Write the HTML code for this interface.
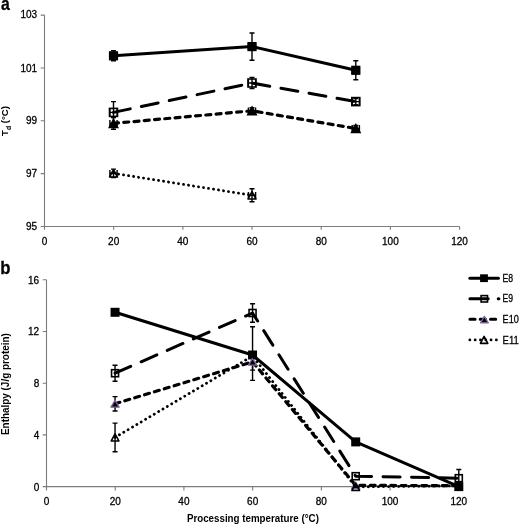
<!DOCTYPE html>
<html><head><meta charset="utf-8"><style>
html,body{margin:0;padding:0;background:#fff;}
body{width:519px;height:524px;overflow:hidden;}
svg{display:block;will-change:transform;font-family:"Liberation Sans",sans-serif;}
text{fill:#000;stroke:#000;stroke-width:0.28px;}
.nb{stroke-width:0px;stroke:none;}
</style></head><body>
<svg width="519" height="524" viewBox="0 0 519 524">
<rect width="519" height="524" fill="#fff"/>
<path d="M44.5,15.1 V226.5 H459.6" fill="none" stroke="#7c7c7c" stroke-width="1.1"/>
<path d="M40.7,15.1 H44.5 M40.7,67.95 H44.5 M40.7,120.8 H44.5 M40.7,173.65 H44.5 M40.7,226.5 H44.5 M44.5,226.5 V229.7 M113.68,226.5 V229.7 M182.87,226.5 V229.7 M252.05,226.5 V229.7 M321.23,226.5 V229.7 M390.42,226.5 V229.7 M459.6,226.5 V229.7 " fill="none" stroke="#7c7c7c" stroke-width="1.1"/>
<path d="M46.5,279.8 V486.6 H458.8" fill="none" stroke="#7c7c7c" stroke-width="1.1"/>
<path d="M42.7,279.8 H46.5 M42.7,331.5 H46.5 M42.7,383.2 H46.5 M42.7,434.9 H46.5 M42.7,486.6 H46.5 M46.5,486.6 V490.4 M115.22,486.6 V490.4 M183.93,486.6 V490.4 M252.65,486.6 V490.4 M321.37,486.6 V490.4 M390.08,486.6 V490.4 M458.8,486.6 V490.4 " fill="none" stroke="#7c7c7c" stroke-width="1.1"/>
<text x="37.2" y="17.8" font-size="10" text-anchor="end" font-weight="normal" >103</text>
<text x="37.2" y="71.55" font-size="10" text-anchor="end" font-weight="normal" >101</text>
<text x="37.2" y="124.4" font-size="10" text-anchor="end" font-weight="normal" >99</text>
<text x="37.2" y="177.25" font-size="10" text-anchor="end" font-weight="normal" >97</text>
<text x="37.2" y="230.1" font-size="10" text-anchor="end" font-weight="normal" >95</text>
<text x="44.5" y="245.2" font-size="10" text-anchor="middle" font-weight="normal" >0</text>
<text x="113.68" y="245.2" font-size="10" text-anchor="middle" font-weight="normal" >20</text>
<text x="182.87" y="245.2" font-size="10" text-anchor="middle" font-weight="normal" >40</text>
<text x="252.05" y="245.2" font-size="10" text-anchor="middle" font-weight="normal" >60</text>
<text x="321.23" y="245.2" font-size="10" text-anchor="middle" font-weight="normal" >80</text>
<text x="390.42" y="245.2" font-size="10" text-anchor="middle" font-weight="normal" >100</text>
<text x="459.6" y="245.2" font-size="10" text-anchor="middle" font-weight="normal" >120</text>
<text x="39.2" y="283.7" font-size="10" text-anchor="end" font-weight="normal" >16</text>
<text x="39.2" y="335.4" font-size="10" text-anchor="end" font-weight="normal" >12</text>
<text x="39.2" y="387.1" font-size="10" text-anchor="end" font-weight="normal" >8</text>
<text x="39.2" y="438.8" font-size="10" text-anchor="end" font-weight="normal" >4</text>
<text x="39.2" y="490.5" font-size="10" text-anchor="end" font-weight="normal" >0</text>
<text x="46.5" y="504.8" font-size="10" text-anchor="middle" font-weight="normal" >0</text>
<text x="115.22" y="504.8" font-size="10" text-anchor="middle" font-weight="normal" >20</text>
<text x="183.93" y="504.8" font-size="10" text-anchor="middle" font-weight="normal" >40</text>
<text x="252.65" y="504.8" font-size="10" text-anchor="middle" font-weight="normal" >60</text>
<text x="321.37" y="504.8" font-size="10" text-anchor="middle" font-weight="normal" >80</text>
<text x="390.08" y="504.8" font-size="10" text-anchor="middle" font-weight="normal" >100</text>
<text x="458.8" y="504.8" font-size="10" text-anchor="middle" font-weight="normal" >120</text>
<text transform="translate(0.9,9.6) scale(0.83,1)" font-size="19" font-weight="bold">a</text>
<text transform="translate(0.3,274.4) scale(0.88,1)" font-size="19" font-weight="bold">b</text>
<text transform="translate(7.9,135.9) rotate(-90)" class="nb" font-size="9.3" font-weight="bold" textLength="29.8" lengthAdjust="spacingAndGlyphs">T<tspan font-size="6.6" dy="3.0">d</tspan><tspan dy="-3.0"> (°C)</tspan></text>
<text transform="translate(8.6,435.0) rotate(-90)" class="nb" font-size="10" font-weight="bold" textLength="101.8" lengthAdjust="spacingAndGlyphs">Enthalpy (J/g protein)</text>
<text x="186.9" y="521.6" class="nb" font-size="10" font-weight="bold" textLength="132" lengthAdjust="spacingAndGlyphs">Processing temperature (°C)</text>
<path d="M113.5,55.8 L252,46.6 L355.8,70.3" fill="none" stroke="#000" stroke-width="3.0" stroke-linejoin="round"/>
<path d="M113.5,50.8 V60.8 M111,50.8 H116 M111,60.8 H116" stroke="#000" stroke-width="1.4" fill="none"/>
<path d="M109.9,55.8 H117.1 M109.9,52.4 V59.2 M117.1,52.4 V59.2" stroke="#000" stroke-width="1.4" fill="none"/>
<rect x="108.9" y="51.2" width="9.2" height="9.2" fill="#000"/>
<path d="M252,33 V60.2 M249.5,33 H254.5 M249.5,60.2 H254.5" stroke="#000" stroke-width="1.4" fill="none"/>
<path d="M248.4,46.6 H255.6 M248.4,43.2 V50 M255.6,43.2 V50" stroke="#000" stroke-width="1.4" fill="none"/>
<rect x="247.4" y="42" width="9.2" height="9.2" fill="#000"/>
<path d="M355.8,60.8 V79.8 M353.3,60.8 H358.3 M353.3,79.8 H358.3" stroke="#000" stroke-width="1.4" fill="none"/>
<path d="M352.2,70.3 H359.4 M352.2,66.9 V73.7 M359.4,66.9 V73.7" stroke="#000" stroke-width="1.4" fill="none"/>
<rect x="351.2" y="65.7" width="9.2" height="9.2" fill="#000"/>
<path d="M113.5,112.4 L252,83 L355.8,101.6" fill="none" stroke="#000" stroke-width="3.0" stroke-linecap="round" stroke-linejoin="round" stroke-dasharray="17.1 11.4"/>
<path d="M113.5,101.6 V123.2 M111,101.6 H116 M111,123.2 H116" stroke="#000" stroke-width="1.4" fill="none"/>
<path d="M109.9,112.4 H117.1 M109.9,109 V115.8 M117.1,109 V115.8" stroke="#000" stroke-width="1.4" fill="none"/>
<rect x="109.5" y="108.4" width="8" height="8" fill="none" stroke="#000" stroke-width="1.6"/>
<path d="M252,77.4 V88.6 M249.5,77.4 H254.5 M249.5,88.6 H254.5" stroke="#000" stroke-width="1.4" fill="none"/>
<path d="M248.4,83 H255.6 M248.4,79.6 V86.4 M255.6,79.6 V86.4" stroke="#000" stroke-width="1.4" fill="none"/>
<rect x="248" y="79" width="8" height="8" fill="none" stroke="#000" stroke-width="1.6"/>
<path d="M355.8,98.6 V104.6 M353.3,98.6 H358.3 M353.3,104.6 H358.3" stroke="#000" stroke-width="1.4" fill="none"/>
<path d="M352.2,101.6 H359.4 M352.2,98.2 V105 M359.4,98.2 V105" stroke="#000" stroke-width="1.4" fill="none"/>
<rect x="351.8" y="97.6" width="8" height="8" fill="none" stroke="#000" stroke-width="1.6"/>
<path d="M113.5,123.4 L252,110.8 L355.8,128.5" fill="none" stroke="#000" stroke-width="3.2" stroke-linecap="round" stroke-linejoin="round" stroke-dasharray="5.0 5.3"/>
<path d="M113.5,117.6 V129.2 M111,117.6 H116 M111,129.2 H116" stroke="#000" stroke-width="1.4" fill="none"/>
<path d="M109.9,123.4 H117.1 M109.9,120 V126.8 M117.1,120 V126.8" stroke="#000" stroke-width="1.4" fill="none"/>
<polygon points="113.5,119.26 118,127.54 109,127.54" fill="#000" stroke="#000" stroke-width="1.2"/>
<path d="M252,107.8 V113.8 M249.5,107.8 H254.5 M249.5,113.8 H254.5" stroke="#000" stroke-width="1.4" fill="none"/>
<path d="M248.4,110.8 H255.6 M248.4,107.4 V114.2 M255.6,107.4 V114.2" stroke="#000" stroke-width="1.4" fill="none"/>
<polygon points="252,106.66 256.5,114.94 247.5,114.94" fill="#000" stroke="#000" stroke-width="1.2"/>
<path d="M355.8,125.5 V131.5 M353.3,125.5 H358.3 M353.3,131.5 H358.3" stroke="#000" stroke-width="1.4" fill="none"/>
<path d="M352.2,128.5 H359.4 M352.2,125.1 V131.9 M359.4,125.1 V131.9" stroke="#000" stroke-width="1.4" fill="none"/>
<polygon points="355.8,124.36 360.3,132.64 351.3,132.64" fill="#000" stroke="#000" stroke-width="1.2"/>
<path d="M113.5,173.3 L252,195.3" fill="none" stroke="#000" stroke-width="2.8" stroke-linecap="round" stroke-linejoin="round" stroke-dasharray="0.1 4.96"/>
<path d="M113.5,169.1 V177.5 M111,169.1 H116 M111,177.5 H116" stroke="#000" stroke-width="1.4" fill="none"/>
<path d="M109.9,173.3 H117.1 M109.9,169.9 V176.7 M117.1,169.9 V176.7" stroke="#000" stroke-width="1.4" fill="none"/>
<polygon points="113.5,169.58 117.5,177.02 109.5,177.02" fill="none" stroke="#000" stroke-width="1.6" stroke-linejoin="round"/>
<path d="M252,188.8 V201.8 M249.5,188.8 H254.5 M249.5,201.8 H254.5" stroke="#000" stroke-width="1.4" fill="none"/>
<path d="M248.4,195.3 H255.6 M248.4,191.9 V198.7 M255.6,191.9 V198.7" stroke="#000" stroke-width="1.4" fill="none"/>
<polygon points="252,191.58 256,199.02 248,199.02" fill="none" stroke="#000" stroke-width="1.6" stroke-linejoin="round"/>
<path d="M115.05,312.3 L252.55,355 L355.7,441.9 L458.8,486.6" fill="none" stroke="#000" stroke-width="3.0" stroke-linejoin="round"/>

<rect x="110.55" y="307.8" width="9" height="9" fill="#000"/>
<path d="M252.55,326.8 V380.4 M250.05,326.8 H255.05 M250.05,380.4 H255.05" stroke="#000" stroke-width="1.4" fill="none"/>
<rect x="248.05" y="350.5" width="9" height="9" fill="#000"/>

<rect x="351.2" y="437.4" width="9" height="9" fill="#000"/>

<rect x="454.3" y="482.1" width="9" height="9" fill="#000"/>
<path d="M115.05,373.2 L252.55,313 L355.7,476.2 L458.8,478.2" fill="none" stroke="#000" stroke-width="3.0" stroke-linecap="round" stroke-linejoin="round" stroke-dasharray="17.1 11.4"/>
<path d="M115.05,365.2 V381.2 M112.55,365.2 H117.55 M112.55,381.2 H117.55" stroke="#000" stroke-width="1.4" fill="none"/>
<rect x="111.55" y="369.7" width="7" height="7" fill="none" stroke="#000" stroke-width="1.6"/>
<path d="M252.55,303.8 V322.2 M250.05,303.8 H255.05 M250.05,322.2 H255.05" stroke="#000" stroke-width="1.4" fill="none"/>
<rect x="249.05" y="309.5" width="7" height="7" fill="none" stroke="#000" stroke-width="1.6"/>

<rect x="352.2" y="472.7" width="7" height="7" fill="none" stroke="#000" stroke-width="1.6"/>
<path d="M458.8,469.5 V486.9 M456.3,469.5 H461.3 M456.3,486.9 H461.3" stroke="#000" stroke-width="1.4" fill="none"/>
<rect x="455.3" y="474.7" width="7" height="7" fill="none" stroke="#000" stroke-width="1.6"/>
<path d="M115.05,403.8 L252.55,361.8 L355.7,485.4 L458.8,485.6" fill="none" stroke="#000" stroke-width="3.2" stroke-linecap="round" stroke-linejoin="round" stroke-dasharray="5.0 5.3"/>
<path d="M115.05,396.6 V411 M112.55,396.6 H117.55 M112.55,411 H117.55" stroke="#000" stroke-width="1.4" fill="none"/>
<polygon points="115.05,400.44 119.15,407.16 110.95,407.16" fill="#000" stroke="#8064a2" stroke-width="1.3" stroke-linejoin="round"/>
<path d="M252.55,353.5 V370.1 M250.05,353.5 H255.05 M250.05,370.1 H255.05" stroke="#000" stroke-width="1.4" fill="none"/>
<polygon points="252.55,358.44 256.65,365.16 248.45,365.16" fill="#000" stroke="#8064a2" stroke-width="1.3" stroke-linejoin="round"/>

<polygon points="355.7,482.04 359.8,488.76 351.6,488.76" fill="#000" stroke="#8064a2" stroke-width="1.3" stroke-linejoin="round"/>
<path d="M115.05,437.4 L252.55,356 L355.7,486.9 L458.8,485.8" fill="none" stroke="#000" stroke-width="2.8" stroke-linecap="round" stroke-linejoin="round" stroke-dasharray="0.1 4.96"/>
<path d="M115.05,423.1 V451.7 M112.55,423.1 H117.55 M112.55,451.7 H117.55" stroke="#000" stroke-width="1.4" fill="none"/>
<polygon points="115.05,433.86 118.85,440.94 111.25,440.94" fill="none" stroke="#000" stroke-width="1.6" stroke-linejoin="round"/>

<polygon points="355.7,483.36 359.5,490.44 351.9,490.44" fill="none" stroke="#000" stroke-width="1.6" stroke-linejoin="round"/>
<path d="M469.9,278.2 H498.4" stroke="#000" stroke-width="3.0" stroke-linecap="round"/>
<rect x="480.1" y="274.3" width="7.8" height="7.8" fill="#000"/>
<path d="M469.9,298.8 H498.9" stroke="#000" stroke-width="3.0" stroke-linecap="round" stroke-dasharray="18.3 10"/>
<rect x="481.1" y="295.6" width="6.4" height="6.4" fill="none" stroke="#000" stroke-width="1.6"/>
<path d="M469.9,319.3 H496" stroke="#000" stroke-width="3.0" stroke-linecap="round" stroke-dasharray="5.2 5.1"/>
<polygon points="484.4,316.4 488.3,322.8 480.5,322.8" fill="#000" stroke="#8064a2" stroke-width="1.3" stroke-linejoin="round"/>
<path d="M469.8,339.9 H497" stroke="#000" stroke-width="2.7" stroke-linecap="round" stroke-dasharray="0.1 5.2"/>
<polygon points="484.1,336.45 487.8,343.35 480.4,343.35" fill="none" stroke="#000" stroke-width="1.6" stroke-linejoin="round"/>
<text x="502.6" y="281.8" font-size="10" textLength="10.6" lengthAdjust="spacingAndGlyphs">E8</text>
<text x="502.6" y="302.4" font-size="10" textLength="10.6" lengthAdjust="spacingAndGlyphs">E9</text>
<text x="502.6" y="322.9" font-size="10" textLength="16.2" lengthAdjust="spacingAndGlyphs">E10</text>
<text x="502.6" y="343.5" font-size="10" textLength="16.2" lengthAdjust="spacingAndGlyphs">E11</text>
</svg>
</body></html>
